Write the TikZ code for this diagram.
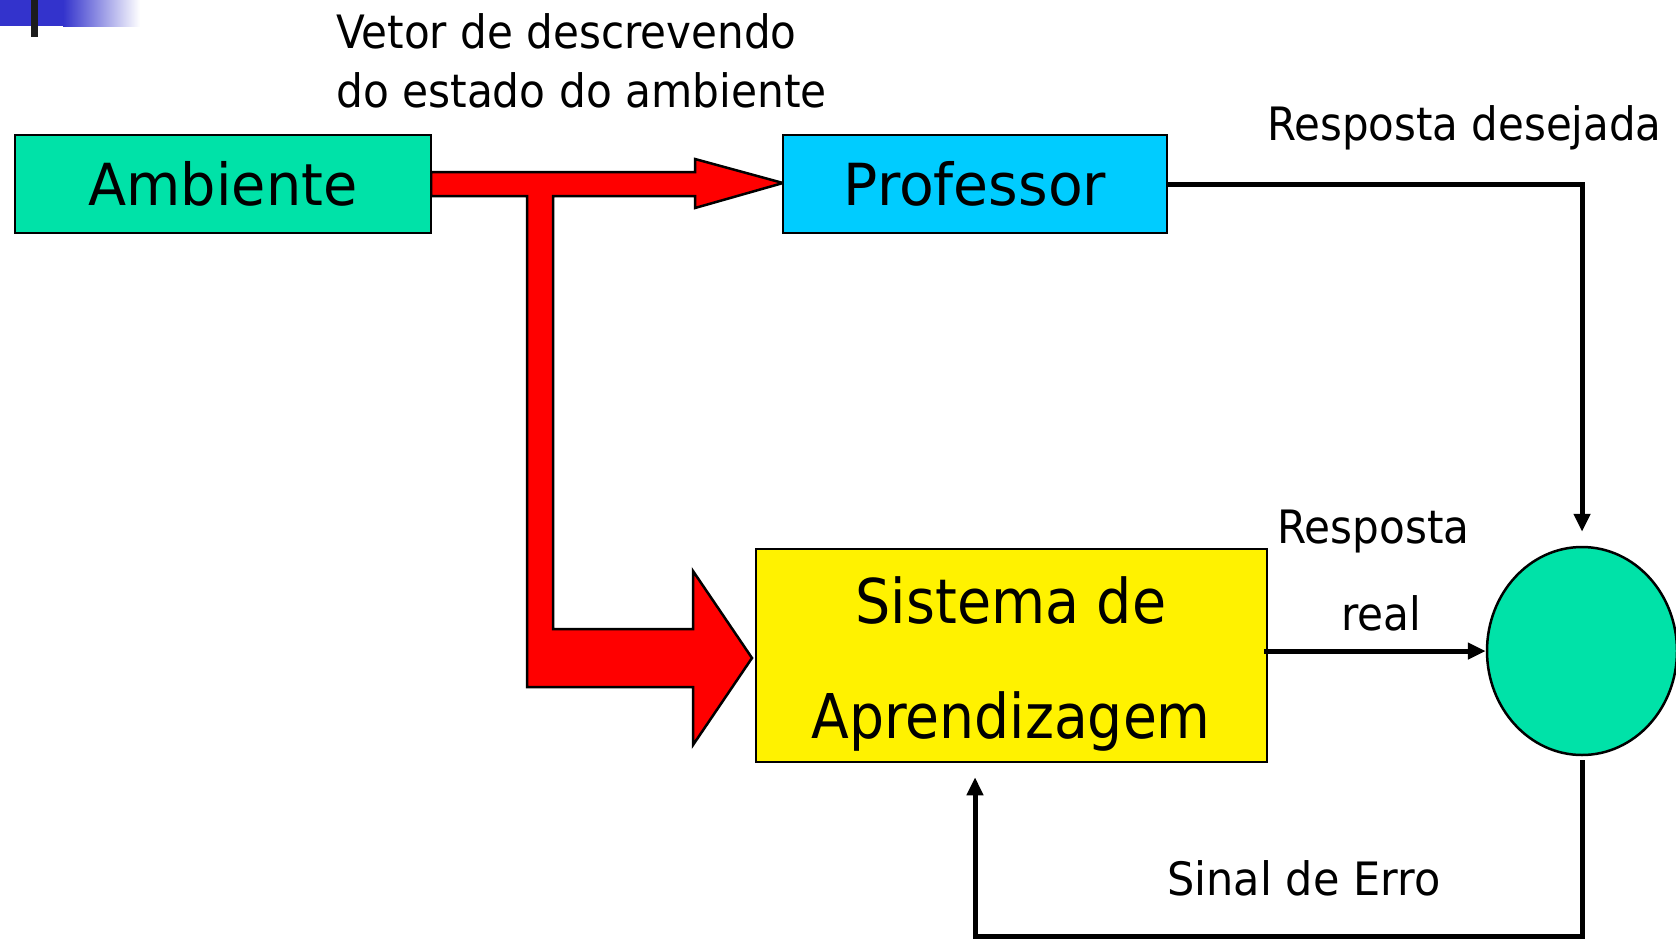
\documentclass[tikz,border=0pt]{standalone}
\usepackage{fontspec}
\setmainfont{DejaVu Sans}
\usepackage{graphicx}
\usetikzlibrary{arrows.meta,shapes.geometric}
\definecolor{ambgreen}{RGB}{0,226,168}
\definecolor{profblue}{RGB}{0,204,255}
\definecolor{hdrblue}{RGB}{51,51,204}
\definecolor{barblack}{RGB}{28,28,28}
\newcommand{\lbl}[3]{\fontsize{#1}{#1}\selectfont\scalebox{#2}[1]{#3}}
\begin{document}
\begin{tikzpicture}[x=1pt,y=-1pt,
  boxnode/.style={draw=black,line width=2.5pt,inner sep=0pt,text height=42pt,text depth=0pt},
  conn/.style={line width=5pt,line join=miter,-{Triangle[length=18pt,width=16pt]}},
  txt/.style={inner sep=0pt,anchor=base west},
  ctxt/.style={inner sep=0pt,anchor=base}]
\useasboundingbox (0,0) rectangle (1676,940);
\fill[white] (0,0) rectangle (1676,940);
% header decoration
\fill[hdrblue] (0,0) rectangle (64,26);
\shade[left color=hdrblue,right color=white] (63,0) rectangle (140,26);
\fill[barblack] (31,0) rectangle (38,37);
% red fat arrows
\draw[fill=red,line width=2.5pt,line join=miter]
  (431,172) -- (695,172) -- (695,159) -- (783,183) -- (695,208) -- (695,196)
  -- (553,196) -- (553,629) -- (693,629) -- (693,571) -- (752,658) -- (693,745)
  -- (693,687) -- (527,687) -- (527,196) -- (431,196) -- cycle;
% boxes
\node[boxnode,fill=ambgreen,minimum width=416pt,minimum height=98pt] (amb) at (223,184) {\lbl{58}{0.96}{Ambiente}};
\node[boxnode,fill=profblue,minimum width=384pt,minimum height=98pt] (prof) at (975,184) {\lbl{58}{0.98}{Professor}};
\node[draw=black,line width=2.5pt,inner sep=0pt,fill=yellow,minimum width=511pt,minimum height=213pt] (sis) at (1011.5,655.5) {};
\node[ctxt] (sis1) at (1011,623) {\lbl{61.7}{0.90}{Sistema de}};
\node[ctxt] (sis2) at (1011,738) {\lbl{61.7}{0.895}{Aprendizagem}};
\node[ellipse,draw=black,line width=2.5pt,fill=ambgreen,inner sep=0pt,minimum width=190pt,minimum height=208pt] (circ) at (1582,651) {};
% labels
\node[txt] (v1) at (336,48) {\lbl{46}{0.915}{Vetor de descrevendo}};
\node[txt] (v2) at (336,107) {\lbl{46}{0.92}{do estado do ambiente}};
\node[txt] (rd) at (1267,140) {\lbl{46}{0.912}{Resposta desejada}};
\node[txt] (rr1) at (1277,543) {\lbl{46}{0.916}{Resposta}};
\node[ctxt] (rr2) at (1381,630) {\lbl{46}{0.917}{real}};
\node[txt] (se) at (1167,895) {\lbl{46}{0.935}{Sinal de Erro}};
% connectors
\draw[conn] (prof.east) -| ([yshift=14pt]circ.north);
\draw[conn] ([xshift=-4pt]sis.east |- circ.west) -- (circ.west);
\draw[conn] ([yshift=-4pt]circ.south) -- ++(0,176) -| ([xshift=-36.5pt,yshift=-14pt]sis.south);
\end{tikzpicture}
\end{document}
